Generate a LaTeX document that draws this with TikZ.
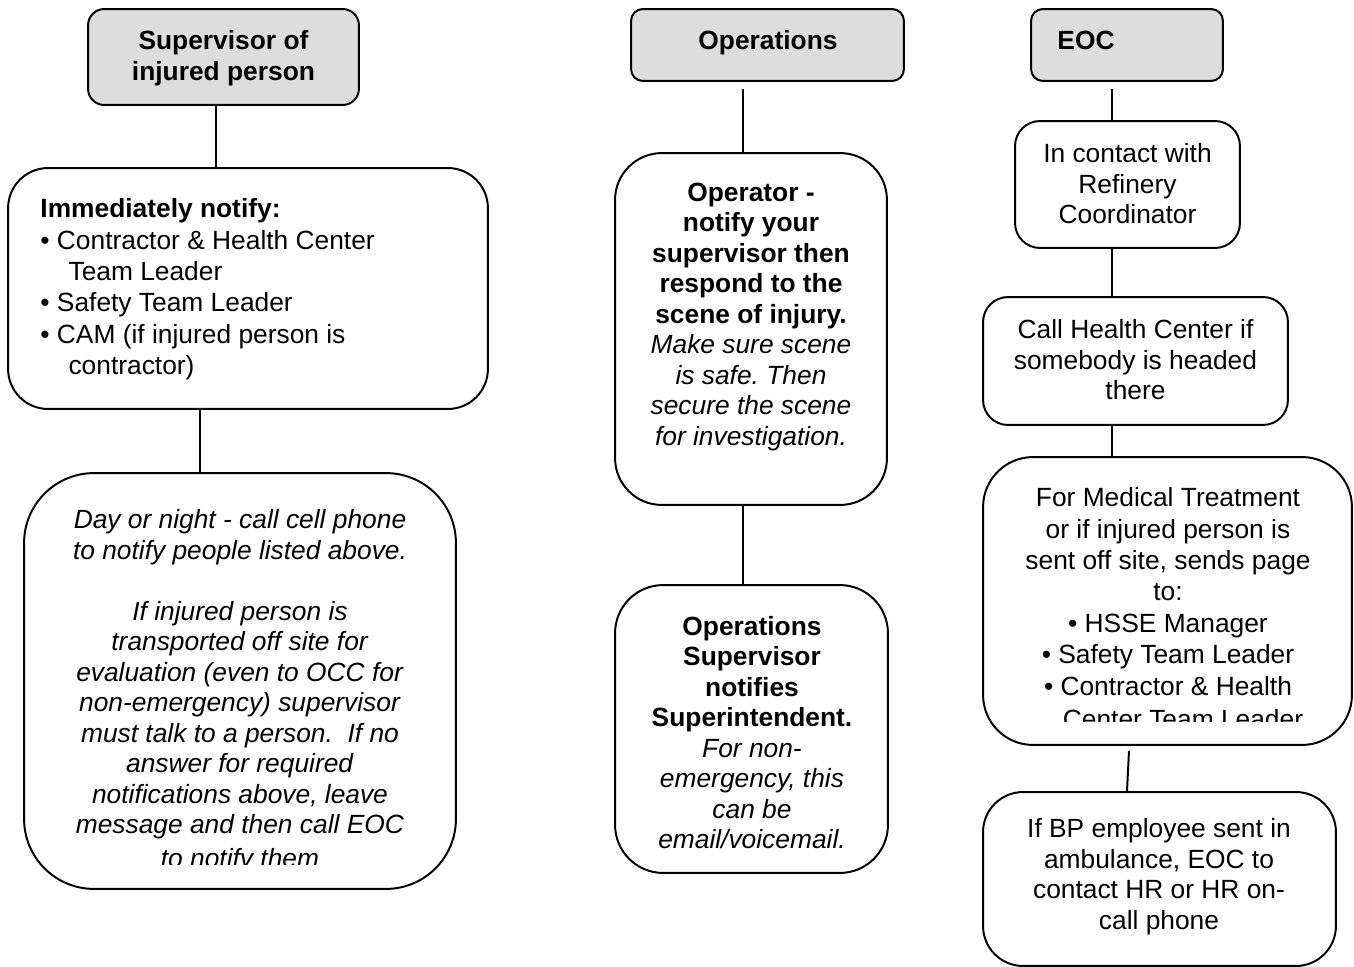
\documentclass[tikz,border=0pt]{standalone}
\usepackage{fontspec}
\setmainfont{Liberation Sans}
\usepackage{tikz}
\usetikzlibrary{shapes,arrows}
\frenchspacing
\definecolor{headgray}{RGB}{221,221,221}
\tikzstyle{head} = [rectangle, draw, fill=headgray, line width=0.9pt, rounded corners=0.22cm]
\tikzstyle{block} = [rectangle, draw, fill=white, line width=0.9pt]
\tikzstyle{txt} = [inner sep=0pt, align=center, font=\fontsize{12}{13.9}\selectfont]
\tikzstyle{line} = [draw, line width=0.9pt]

\begin{document}
\begin{tikzpicture}[x=0.016cm, y=-0.016cm]
\useasboundingbox (0,0) rectangle (1354,967);
% Place nodes
	\node [head, minimum width=4.336cm, minimum height=1.536cm, rounded corners=0.26cm] (sup) at (223.5,57) {};
	\node [txt] (supT) at (223.5,58) {\textbf{Supervisor of}\\\textbf{injured person}};
	\node [block, minimum width=7.68cm, minimum height=3.856cm, rounded corners=0.64cm] (notify) at (248,288.5) {};
	\node [txt, align=left, anchor=west, font=\fontsize{12}{14.3}\selectfont] (notifyT) at (40,289.3) {\textbf{Immediately notify:}\\
		\textbullet\ Contractor \& Health Center\\\hspace*{0.45cm}Team Leader\\
		\textbullet\ Safety Team Leader\\
		\textbullet\ CAM (if injured person is\\\hspace*{0.45cm}contractor)};
	\node [block, minimum width=6.912cm, minimum height=6.656cm, rounded corners=1.12cm] (day) at (240,681) {};
	\node [txt] (dayT) at (240,674.5) {\textit{Day or night - call cell phone}\\\textit{to notify people listed above.}\\[13.9pt]
		\textit{If injured person is}\\\textit{transported off site for}\\\textit{evaluation (even to OCC for}\\
		\textit{non-emergency) supervisor}\\\textit{must talk to a person.~ If no}\\\textit{answer for required}\\
		\textit{notifications above, leave}\\\textit{message and then call EOC}};
	\begin{scope}
		\clip (100,840) rectangle (400,864);
		\node [txt, anchor=base] (dayTail) at (240,867) {\textit{to notify them}};
	\end{scope}

	\node [head, minimum width=4.368cm, minimum height=1.152cm, rounded corners=0.19cm] (ops) at (767.5,45) {};
	\node [txt] (opsT) at (768,42.5) {\textbf{Operations}};
	\node [block, minimum width=4.352cm, minimum height=5.632cm, rounded corners=0.75cm] (oper) at (751,329) {};
	\node [txt] (operT) at (751,316.8) {\textbf{Operator -}\\\textbf{notify your}\\\textbf{supervisor then}\\
		\textbf{respond to the}\\\textbf{scene of injury.}\\\textit{Make sure scene}\\\textit{is safe. Then}\\
		\textit{secure the scene}\\\textit{for investigation.}};
	\node [block, minimum width=4.368cm, minimum height=4.608cm, rounded corners=0.77cm] (opsup) at (751.5,729) {};
	\node [txt] (opsupT) at (752,732.5) {\textbf{Operations}\\\textbf{Supervisor}\\\textbf{notifies}\\\textbf{Superintendent.}\\
		\textit{For non-}\\\textit{emergency, this}\\\textit{can be}\\\textit{email/voicemail.}};

	\node [head, minimum width=3.072cm, minimum height=1.152cm, rounded corners=0.19cm] (eoc) at (1127,45) {};
	\node [txt, anchor=west] (eocT) at (1057,40.5) {\textbf{EOC}};
	\node [block, minimum width=3.6cm, minimum height=2.032cm, rounded corners=0.4cm] (contact) at (1127.5,184.5) {};
	\node [txt] (contactT) at (1127.5,184) {In contact with\\Refinery\\Coordinator};
	\node [block, minimum width=4.88cm, minimum height=2.048cm, rounded corners=0.4cm] (health) at (1135.5,361) {};
	\node [txt] (healthT) at (1135.5,360) {Call Health Center if\\somebody is headed\\there};
	\node [block, minimum width=5.904cm, minimum height=4.608cm, rounded corners=0.8cm] (med) at (1167.5,601) {};
	\node [txt, font=\fontsize{12}{14.3}\selectfont] (medT) at (1168,591.5) {For Medical Treatment\\or if injured person is\\
		sent off site, sends page\\to:\\\textbullet\ HSSE Manager\\\textbullet\ Safety Team Leader\\
		\textbullet\ Contractor \& Health};
	\begin{scope}
		\clip (1040,700) rectangle (1320,721);
		\node [txt, anchor=base] (medTail) at (1183,728) {Center Team Leader};
	\end{scope}
	\node [block, minimum width=5.648cm, minimum height=2.784cm, rounded corners=0.64cm] (bp) at (1159.5,879) {};
	\node [txt] (bpT) at (1159,876.5) {If BP employee sent in\\ambulance, EOC to\\contact HR or HR on-\\call phone};

	\coordinate (xa) at (216,0);
	\coordinate (xb) at (200,0);
	\coordinate (xc) at (743,0);
	\coordinate (xd) at (1112,0);
	\coordinate (xe) at (1129,0);
	\coordinate (xf) at (1127,0);

% Draw edges
	\path [line] (sup.south -| xa) -- (notify.north -| xa);
	\path [line] (notify.south -| xb) -- (day.north -| xb);
	\path [line] (ops.south -| xc) ++(0,7) -- (oper.north -| xc);
	\path [line] (oper.south -| xc) -- (opsup.north -| xc);
	\path [line] (eoc.south -| xd) ++(0,7) -- (contact.north -| xd);
	\path [line] (contact.south -| xd) -- (health.north -| xd);
	\path [line] (health.south -| xd) -- (med.north -| xd);
	\path [line] (med.south -| xe) ++(0,5) -- (bp.north -| xf);

\end{tikzpicture}
\end{document}
